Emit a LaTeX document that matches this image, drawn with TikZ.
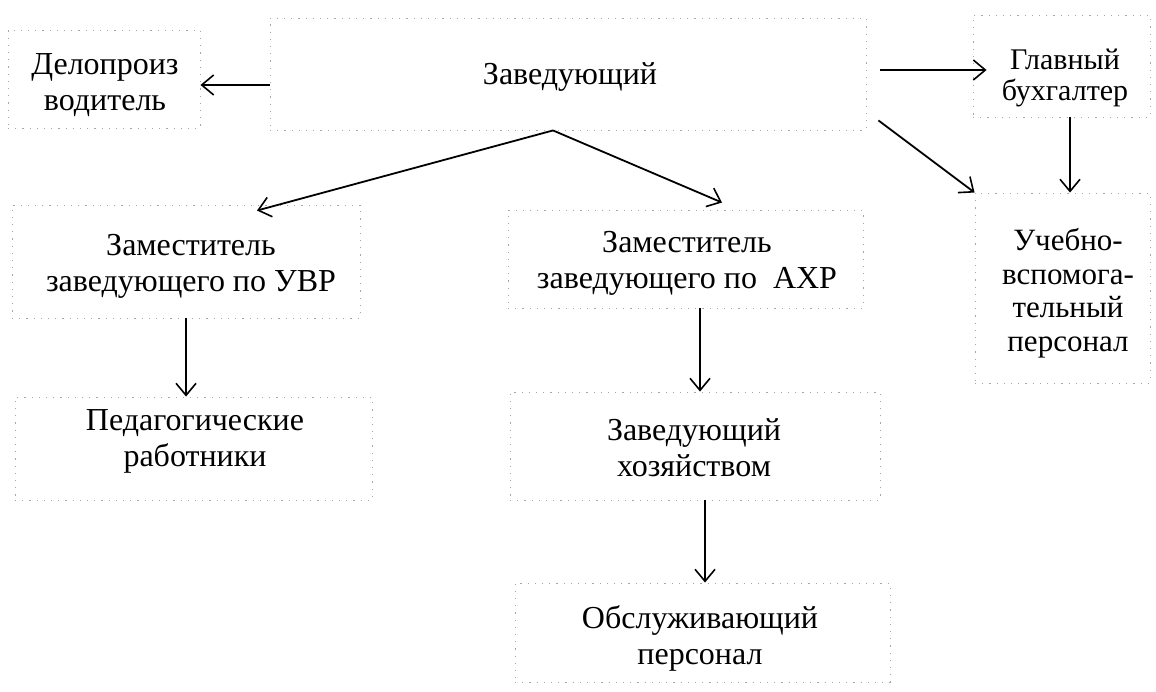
\documentclass[tikz,border=0pt]{standalone}
\usepackage{fontspec}
\setmainfont{Liberation Serif}
\usetikzlibrary{arrows.meta}
\begin{document}
\begin{tikzpicture}[x=1pt,y=-1pt,
  box/.style={draw=black!35, dash pattern=on 1.2pt off 6pt, line width=0.9pt, inner sep=0pt},
  lbl/.style={align=center, inner sep=0pt, font=\fontsize{32}{36}\selectfont},
  lblg/.style={align=center, inner sep=0pt, font=\fontsize{30}{31}\selectfont},
  lbls/.style={align=center, inner sep=0pt, font=\fontsize{31}{33.5}\selectfont},
  arr/.style={line width=1.8pt, -{Straight Barb[length=12pt,width=20pt,line width=1.6pt]}}]
\useasboundingbox (0,0) rectangle (1156,692);
% boxes
\node[box, minimum width=192pt, minimum height=98pt]  (bdelo)  at (104,79) {};
\node[box, minimum width=596pt, minimum height=112pt] (bzav)   at (568,74) {};
\node[box, minimum width=177pt, minimum height=102pt] (bglav)  at (1061.5,66) {};
\node[box, minimum width=175pt, minimum height=190pt] (bucheb) at (1062.5,288) {};
\node[box, minimum width=348pt, minimum height=113pt] (bzuvr)  at (186,261.5) {};
\node[box, minimum width=357pt, minimum height=103pt] (bped)   at (193.5,448.5) {};
\node[box, minimum width=355pt, minimum height=98pt]  (bzahr)  at (685.5,259) {};
\node[box, minimum width=370pt, minimum height=108pt] (bzh)    at (695,446) {};
\node[box, minimum width=375pt, minimum height=99pt]  (bobs)   at (702.5,632.5) {};
% texts
\node[lbl]  (tdelo)  at (105,85)   {Делопроиз\\водитель};
\node[lbl]  (tzav)   at (570,77)   {Заведующий};
\node[lblg] (tglav)  at (1065,78)  {Главный\\бухгалтер};
\node[lbls] (tucheb) at (1068,293) {Учебно-\\вспомога-\\тельный\\персонал};
\node[lbl]  (tzuvr)  at (191,266)  {Заместитель\\заведующего по УВР};
\node[lbl]  (tzahr)  at (687,263)  {Заместитель\\заведующего по \ АХР};
\node[lbl]  (tped)   at (195,441)  {Педагогические\\работники};
\node[lbl]  (tzh)    at (694,448)  {Заведующий\\хозяйством};
\node[lbl]  (tobs)   at (700,638)  {Обслуживающий\\персонал};
% connectors
\coordinate (fork) at ([xshift=-15pt]bzav.south);
\draw[arr] ([yshift=-11pt]bzav.west) -- ([yshift=-11pt]bzav.west -| bdelo.east);
\draw[arr] ([xshift=14pt,yshift=4pt]bzav.east) -- ([xshift=14pt,yshift=4pt]bzav.east -| bglav.west);
\draw[arr] (fork) -- ([xshift=71pt,yshift=-6pt]bzuvr.north);
\draw[arr] (fork) -- ([xshift=36.5pt,yshift=7pt]bzahr.north);
\draw[arr] ([xshift=12pt,yshift=10pt]bzav.south east) -- (bucheb.north west);
\draw[arr] ([xshift=8.5pt]bglav.south) -- ([xshift=8.5pt]bglav.south |- bucheb.north);
\draw[arr] (bzuvr.south) -- (bzuvr.south |- bped.north);
\draw[arr] ([xshift=14.5pt]bzahr.south) -- ([xshift=14.5pt]bzahr.south |- bzh.north);
\draw[arr] ([xshift=10pt]bzh.south) -- ([xshift=10pt]bzh.south |- bobs.north);
\end{tikzpicture}
\end{document}
